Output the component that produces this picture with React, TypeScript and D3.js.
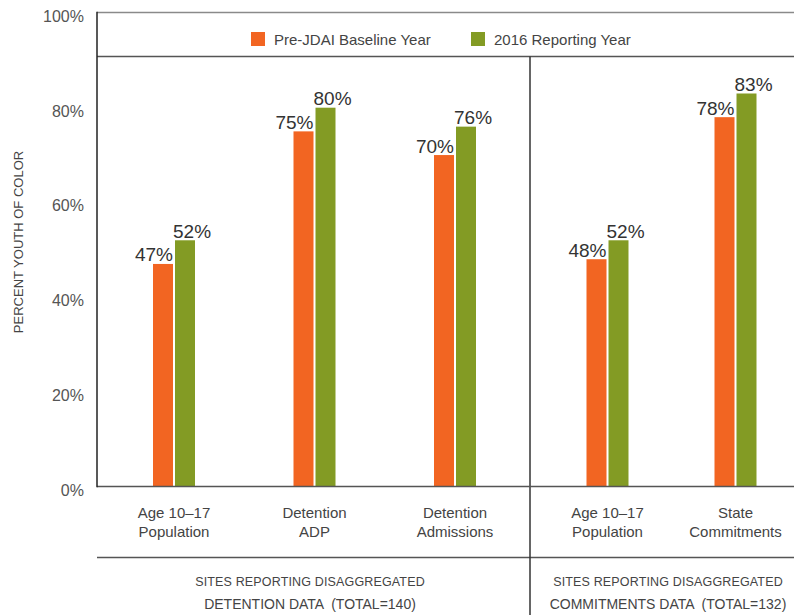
import React from 'react';
import * as d3 from 'd3';

// chart values
const seriesNames = ['Pre-JDAI Baseline Year', '2016 Reporting Year'];
const seriesColors = ['#f26522', '#839b24'];

const detentionCategories = ['Age 10–17|Population', 'Detention|ADP', 'Detention|Admissions'];
const detentionBaseline = [47, 75, 70];
const detention2016 = [52, 80, 76];

const commitmentCategories = ['Age 10–17|Population', 'State|Commitments'];
const commitmentBaseline = [48, 78];
const commitment2016 = [52, 83];

const yTicks = [0, 20, 40, 60, 80, 100];
const panelNotes = [
  ['SITES REPORTING DISAGGREGATED', 'DETENTION DATA  (TOTAL=140)'],
  ['SITES REPORTING DISAGGREGATED', 'COMMITMENTS DATA  (TOTAL=132)'],
];

const W = 794;
const H = 615;
const FONT = '"Liberation Sans", Arial, sans-serif';
const TEXT = '#444';

const App = () => {
  const left = 97;
  const divider = 530;
  const topY = 12.5;
  const legendY = 56.5;
  const baseY = 486.5;
  const footY = 557.5;

  const y = d3.scaleLinear().domain([0, 100]).range([baseY, 13]);

  // one point scale per panel
  const xDet = d3.scalePoint().domain(detentionCategories).range([174, 455]);
  const xCom = d3.scalePoint().domain(commitmentCategories).range([607.5, 735.5]);

  const barW = 20;
  const gap = 1;

  const groups = [
    ...detentionCategories.map((c, i) => ({ key: 'd' + i, label: c, x: xDet(c)!, vals: [detentionBaseline[i], detention2016[i]] })),
    ...commitmentCategories.map((c, i) => ({ key: 'c' + i, label: c, x: xCom(c)!, vals: [commitmentBaseline[i], commitment2016[i]] })),
  ];

  const noteX = [310, 668];

  return (
    <svg width={W} height={H} style={{ position: 'absolute', left: 0, top: 0 }} fontFamily={FONT}>
      <rect width={W} height={H} fill="#fff" />

      {/* frame lines */}
      <line x1={left} x2={W} y1={topY} y2={topY} stroke="#8a8a8a" strokeWidth={1.5} />
      <line x1={left} x2={W} y1={legendY} y2={legendY} stroke="#555" strokeWidth={1.5} />
      <line x1={left} x2={W} y1={footY} y2={footY} stroke="#555" strokeWidth={1.5} />
      <line x1={divider} x2={divider} y1={legendY} y2={H} stroke="#333" strokeWidth={1.5} />

      {/* legend */}
      {seriesNames.map((s, i) => {
        const lx = [251, 471][i];
        return (
          <g key={s}>
            <rect x={lx} y={32} width={14} height={14} fill={seriesColors[i]} />
            <text x={lx + 23} y={44.5} fontSize={15} fill={TEXT}>{s}</text>
          </g>
        );
      })}

      {/* y ticks */}
      {yTicks.map((t) => (
        <text key={t} x={84} y={y(t) + 9} textAnchor="end" fontSize={16} fill="#555">{t}%</text>
      ))}
      <text
        transform={`translate(22.5,${242}) rotate(-90)`}
        textAnchor="middle"
        fontSize={13}
        fill={TEXT}
      >PERCENT YOUTH OF COLOR</text>

      {/* bars */}
      {groups.map((g) => (
        <g key={g.key}>
          {g.vals.map((v, i) => {
            const x0 = i === 0 ? g.x - gap - barW : g.x + gap;
            return (
              <g key={i}>
                <rect x={x0} y={y(v)} width={barW} height={baseY - y(v)} fill={seriesColors[i]} />
                <text
                  x={i === 0 ? x0 + barW : x0 - 2}
                  y={y(v) - 2.5}
                  textAnchor={i === 0 ? 'end' : 'start'}
                  fontSize={19}
                  fill="#333"
                >{v}%</text>
              </g>
            );
          })}
          {g.label.split('|').map((ln, j) => (
            <text key={j} x={g.x} y={518 + j * 19} textAnchor="middle" fontSize={15} fill={TEXT}>{ln}</text>
          ))}
        </g>
      ))}

      {/* axes drawn last so they sit over the bars */}
      <line x1={left} x2={W} y1={baseY} y2={baseY} stroke="#555" strokeWidth={1.5} />
      <line x1={left} x2={left} y1={topY - 0.75} y2={baseY + 0.75} stroke="#222" strokeWidth={1.5} />

      {/* panel notes */}
      {panelNotes.map((lines, i) =>
        lines.map((ln, j) => (
          <text
            key={i + '-' + j}
            x={noteX[i]}
            y={586 + j * 23}
            textAnchor="middle"
            fontSize={j === 0 ? 12.5 : 14}
            letterSpacing={j === 0 ? 0.15 : 0}
            style={{ whiteSpace: 'pre' }}
            fill={TEXT}
          >{ln}</text>
        ))
      )}
    </svg>
  );
};

export default App;
